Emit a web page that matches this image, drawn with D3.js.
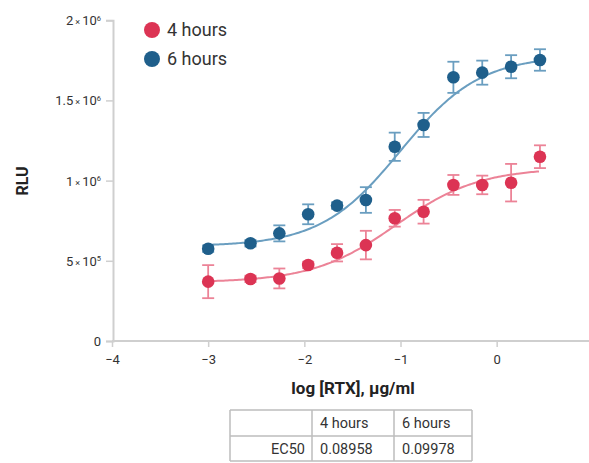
<!DOCTYPE html>
<html><head><meta charset="utf-8">
<script src="https://cdn.jsdelivr.net/npm/d3@7"></script>
<style>body{margin:0;background:#fff;font-family:Roboto,sans-serif}</style>
</head><body><svg id="c" width="589" height="463"></svg>
<script>
const logConc = [-3, -2.56, -2.26, -1.96, -1.66, -1.36, -1.06, -0.76, -0.45, -0.15, 0.15, 0.45];
const rlu4h = [370000, 387000, 390000, 474000, 550000, 598000, 765000, 806000, 973000, 973000, 987000, 1149000];
const err4h = [103000, 20000, 62000, 20000, 54000, 89000, 52000, 74000, 62000, 58000, 117000, 71000];
const rlu6h = [575000, 609000, 671000, 790000, 844000, 879000, 1211000, 1347000, 1644000, 1673000, 1710000, 1752000];
const err6h = [20000, 20000, 50000, 62000, 20000, 80000, 88000, 75000, 97000, 75000, 72000, 67000];
const seriesNames = ["4 hours", "6 hours"];
// 4PL fit parameters: bottom, top, logEC50, hill
const fit4h = [365000, 1080000, -1.048, 1.0];
const fit6h = [590000, 1780000, -1.001, 1.05];
const ec50 = ["0.08958", "0.09978"];
const xTicks = [-4, -3, -2, -1, 0];
const yTicks = [0, 500000, 1000000, 1500000, 2000000];
const yTickLabels = [["0",""], ["5 × 10","5"], ["1 × 10","6"], ["1.5 × 10","6"], ["2 × 10","6"]];

const colors = ["#dc3454", "#1f5f8b"];
const light = ["#ec8397", "#6a9ec0"];

const svg = d3.select("#c");
const x = d3.scaleLinear().domain([-4, 0.96]).range([112, 589]);
const y = d3.scaleLinear().domain([0, 2000000]).range([341, 20.2]);

// axes
const axisCol = "#cfcfcf";
const xa = svg.append("g").attr("transform", "translate(0,341)")
  .call(d3.axisBottom(x).tickValues(xTicks).tickSize(6).tickPadding(8).tickFormat(d => d < 0 ? "\u2212" + Math.abs(d) : d));
const ya = svg.append("g").attr("transform", "translate(113,0)")
  .call(d3.axisLeft(y).tickValues(yTicks).tickSize(7).tickPadding(6).tickFormat(""));
[xa, ya].forEach(a => {
  a.select(".domain").attr("stroke", axisCol).attr("stroke-width", 2);
  a.selectAll(".tick line").attr("stroke", axisCol).attr("stroke-width", 1.5);
  a.selectAll("text").attr("font-family", "Roboto").attr("font-size", 13).attr("fill", "#333");
});
xa.select(".domain").attr("d", "M112,0H589");
// y tick labels with superscripts
ya.selectAll(".tick").each(function(d, i) {
  const t = d3.select(this).append("text").attr("x", -12).attr("dy", "0.35em")
    .attr("text-anchor", "end").attr("font-family", "Roboto").attr("font-size", 13).attr("fill", "#333");
  const lab = yTickLabels[yTicks.indexOf(d)];
  const parts = lab[0].split(" × ");
  if (parts.length === 2) {
    t.append("tspan").text(parts[0]);
    t.append("tspan").attr("dx", 2).attr("font-size", 9).text("×");
    t.append("tspan").attr("dx", 2).text(parts[1]);
  } else {
    t.append("tspan").text(lab[0]);
  }
  if (lab[1]) t.append("tspan").attr("font-size", 7.5).attr("dy", "-0.6em").text(lab[1]);
});

// axis titles
svg.append("text").attr("transform", "translate(28,181) rotate(-90)").attr("text-anchor", "middle")
  .attr("font-family", "Roboto").attr("font-weight", "bold").attr("font-size", 16).attr("fill", "#222").text("RLU");
svg.append("text").attr("x", 353).attr("y", 394).attr("text-anchor", "middle")
  .attr("font-family", "Roboto").attr("font-weight", "bold").attr("font-size", 17).attr("fill", "#222").text("log [RTX], µg/ml");

// curves
function fourPL(p, v) { return p[0] + (p[1] - p[0]) / (1 + Math.pow(10, (p[2] - v) * p[3])); }
const fits = [fit4h, fit6h];
const vals = [rlu4h, rlu6h];
const errs = [err4h, err6h];
const xs = d3.range(logConc[0], logConc[logConc.length - 1] + 0.001, 0.02);
const line = d3.line().x(d => x(d[0])).y(d => y(d[1])).curve(d3.curveMonotoneX);
[1, 0].forEach(s => {
  svg.append("path").datum(xs.map(v => [v, fourPL(fits[s], v)]))
    .attr("fill", "none").attr("stroke", light[s]).attr("stroke-width", 2).attr("d", line);
});
// error bars and points
[1, 0].forEach(s => {
  const g = svg.append("g");
  logConc.forEach((c, i) => {
    const cx = x(c), v = vals[s][i], e = errs[s][i];
    g.append("line").attr("x1", cx).attr("x2", cx).attr("y1", y(v - e)).attr("y2", y(v + e))
      .attr("stroke", light[s]).attr("stroke-width", 1.8);
    [v - e, v + e].forEach(w => g.append("line").attr("x1", cx - 6).attr("x2", cx + 6).attr("y1", y(w)).attr("y2", y(w))
      .attr("stroke", light[s]).attr("stroke-width", 1.8));
  });
  g.selectAll("circle").data(logConc).join("circle")
    .attr("cx", d => x(d)).attr("cy", (d, i) => y(vals[s][i])).attr("r", 6.3).attr("fill", colors[s]);
});

// legend
seriesNames.forEach((n, i) => {
  const ly = 30 + i * 29;
  svg.append("circle").attr("cx", 152).attr("cy", ly).attr("r", 8).attr("fill", colors[i]);
  svg.append("text").attr("x", 167).attr("y", ly).attr("dy", "0.35em").attr("font-family", "Roboto")
    .attr("font-size", 18).attr("fill", "#333").text(n);
});

// table
const colX = [230, 312, 394, 472];
const rowY = [410, 436, 461];
const tg = svg.append("g");
const bc = "#bdbdbd";
rowY.forEach(r => tg.append("line").attr("x1", colX[0]).attr("x2", colX[3]).attr("y1", r).attr("y2", r).attr("stroke", bc).attr("stroke-width", 1.5));
colX.forEach(c => tg.append("line").attr("x1", c).attr("x2", c).attr("y1", rowY[0]).attr("y2", rowY[2]).attr("stroke", bc).attr("stroke-width", 1.5));
const cell = (tx, xx, yy, anchor) => tg.append("text").attr("x", xx).attr("y", yy).attr("dy", "0.35em")
  .attr("text-anchor", anchor).attr("font-family", "Roboto").attr("font-size", 14.5).attr("fill", "#333").text(tx);
seriesNames.forEach((n, i) => cell(n, colX[i + 1] + 8, (rowY[0] + rowY[1]) / 2, "start"));
cell("EC50", colX[1] - 7, (rowY[1] + rowY[2]) / 2, "end");
ec50.forEach((v, i) => cell(v, colX[i + 1] + 8, (rowY[1] + rowY[2]) / 2, "start"));
</script></body></html>
